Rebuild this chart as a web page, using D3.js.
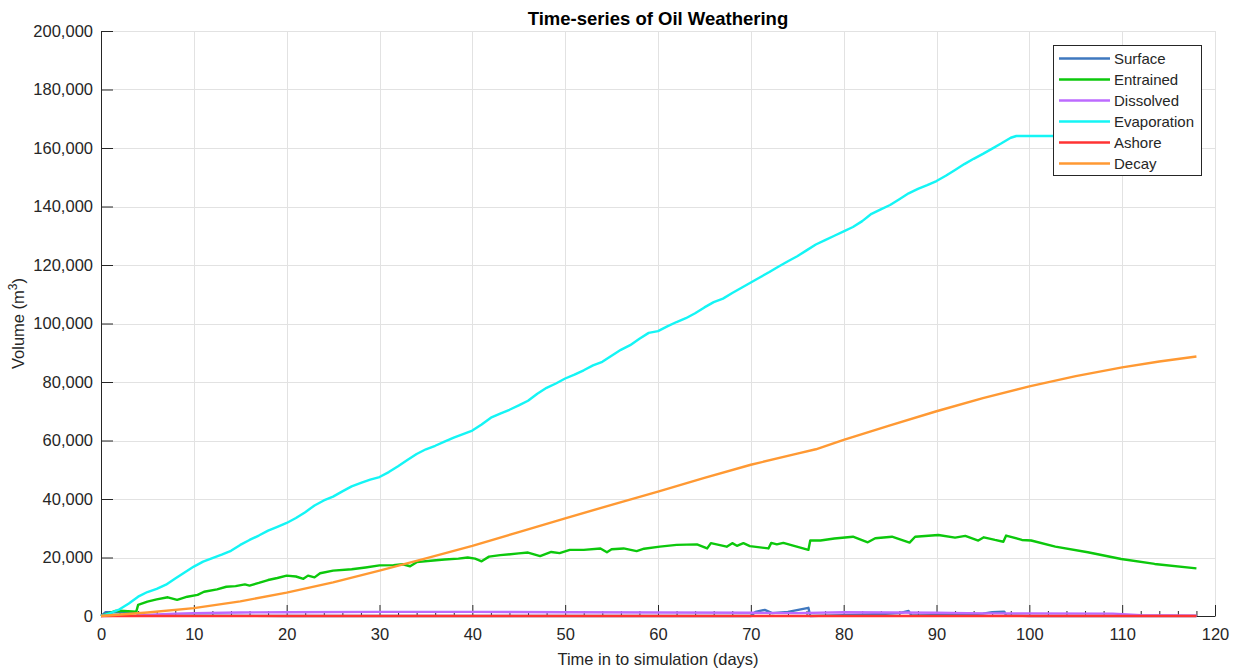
<!DOCTYPE html>
<html>
<head>
<meta charset="utf-8">
<script src="https://cdn.jsdelivr.net/npm/d3@7"></script>
<style>
  body { margin: 0; background: #fff; }
  svg { display: block; font-family: "Liberation Sans", Arial, sans-serif; }
</style>
</head>
<body>
<div id="chart"></div>
<script>
// values (days, m3)
const surfaceDays = [0, 0.5, 3.8, 4, 10, 20, 40, 60, 70, 70.5, 71.5, 72.3, 74, 76.2, 76.4, 80, 84, 86, 87, 87.3, 92, 95, 96, 97.3, 97.5, 100, 118];
const surfaceVol = [0, 1300, 1300, 200, 100, 0, 0, 0, 0, 1400, 2100, 1000, 1400, 2800, 0, 300, 700, 1000, 1700, 200, 400, 800, 1300, 1500, 200, 0, 0];

const entrainedDays = [0, 1.5, 2, 3.8, 4, 5, 6, 7.2, 8.2, 9.3, 10.4, 11.1, 12.5, 13.5, 14.5, 15.5, 16, 17, 18, 19, 20, 21, 21.8, 22.3, 23, 23.6, 25, 27, 28.5, 30, 31.5, 32.5, 33.3, 34, 35.5, 37, 38.5, 39.5, 40.3, 41, 41.8, 43, 45, 46, 47.3, 48.5, 49.4, 50.5, 52, 53.8, 54.5, 55, 56.3, 57.7, 58.5, 60.2, 62, 64.2, 65.3, 65.7, 67.4, 68, 68.5, 69.2, 69.9, 71.9, 72.2, 72.8, 73.5, 76.2, 76.4, 77.5, 79, 81, 82.6, 83.4, 85.2, 87.1, 87.7, 90.2, 92, 93.1, 94.5, 95.1, 96.3, 97.2, 97.5, 99.2, 100.2, 102.8, 106.3, 109.9, 113.5, 118];
const entrainedVol = [0, 1700, 1800, 1500, 3800, 4900, 5700, 6400, 5500, 6600, 7200, 8300, 9100, 10000, 10200, 10800, 10400, 11300, 12300, 13000, 13800, 13500, 12700, 13800, 13200, 14600, 15500, 16000, 16600, 17300, 17400, 17700, 17000, 18400, 18900, 19300, 19600, 20000, 19600, 18700, 20300, 20800, 21400, 21700, 20500, 21900, 21500, 22600, 22600, 23100, 21800, 22800, 23100, 22200, 23000, 23700, 24300, 24500, 23100, 24900, 23700, 24900, 24000, 24900, 23900, 23100, 25000, 24500, 25000, 22600, 25800, 25800, 26500, 27100, 25200, 26600, 27100, 25100, 27100, 27700, 26800, 27400, 25800, 26900, 26000, 25400, 27500, 26000, 25800, 23700, 21800, 19500, 17800, 16300];

const dissolvedDays = [0, 4, 6, 8, 10, 15, 20, 30, 40, 50, 60, 70, 75, 80, 85, 90, 95, 100, 109, 112, 118];
const dissolvedVol = [0, 200, 500, 800, 1000, 1200, 1300, 1400, 1400, 1300, 1200, 1100, 1000, 1300, 1200, 1100, 900, 900, 800, 300, 100];

const evaporationDays = [0, 1, 2, 3, 4, 5, 6, 7, 8, 9, 10, 11, 12, 13, 14, 15, 16, 17, 18, 19, 20, 21, 22, 23, 24, 25, 26, 27, 28, 29, 30, 31, 32, 33, 34, 35, 36, 37, 38, 39, 40, 41, 42, 43, 44, 45, 46, 47, 48, 49, 50, 51, 52, 53, 54, 55, 56, 57, 58, 59, 60, 61, 62, 63, 64, 65, 66, 67, 68, 69, 70, 71, 72, 73, 74, 75, 76, 77, 78, 79, 80, 81, 82, 83, 84, 85, 86, 87, 88, 89, 90, 91, 92, 93, 94, 95, 96, 97, 98, 98.6, 118];
const evaporationVol = [0, 1000, 2300, 4300, 6600, 8200, 9300, 10700, 12800, 14900, 16900, 18600, 19800, 21000, 22300, 24300, 26000, 27500, 29200, 30500, 31800, 33500, 35500, 37800, 39500, 40800, 42600, 44300, 45500, 46600, 47500, 49200, 51200, 53300, 55400, 57000, 58200, 59600, 61000, 62200, 63400, 65500, 67800, 69200, 70500, 72000, 73600, 76000, 78000, 79500, 81200, 82500, 84000, 85700, 86900, 89000, 91000, 92600, 94800, 96800, 97400, 99000, 100500, 101800, 103500, 105500, 107300, 108500, 110400, 112200, 114000, 115800, 117600, 119500, 121300, 123000, 125000, 127000, 128500, 130000, 131500, 133000, 135000, 137500, 139000, 140500, 142500, 144500, 146000, 147300, 148700, 150500, 152500, 154500, 156300, 158000, 159800, 161600, 163500, 164100, 164100];

const ashoreDays = [0, 118];
const ashoreVol = [0, 0];

const decayDays = [0, 5, 10, 15, 20, 25, 30, 35, 40, 45, 50, 55, 60, 65, 70, 75, 77, 80, 85, 90, 95, 100, 105, 110, 114, 118];
const decayVol = [0, 1200, 2700, 5000, 8000, 11500, 15500, 19700, 24000, 28700, 33400, 38000, 42500, 47200, 51700, 55500, 57000, 60200, 65200, 70000, 74500, 78500, 82000, 85000, 87000, 88700];

const seriesNames = ['Surface', 'Entrained', 'Dissolved', 'Evaporation', 'Ashore', 'Decay'];
const seriesColors = ['#3f78bf', '#0cc80c', '#bd6bff', '#14f5f5', '#ff3333', '#ff9933'];

const xTicks = d3.range(0, 121, 10);
const xMinorTicks = d3.range(0, 121, 2).filter((d) => d % 10 !== 0);
const yTicks = d3.range(0, 200001, 20000);

const width = 1235;
const height = 671;
const margin = { top: 31, right: 20, bottom: 55, left: 101 };
const ink = '#262626';
const axisFont = '16.5px';

const seriesData = [
  [surfaceDays, surfaceVol],
  [entrainedDays, entrainedVol],
  [dissolvedDays, dissolvedVol],
  [evaporationDays, evaporationVol],
  [ashoreDays, ashoreVol],
  [decayDays, decayVol],
].map(([days, vol], i) => ({
  name: seriesNames[i],
  color: seriesColors[i],
  points: days.map((d, j) => [d, vol[j]]),
}));

const xScale = d3.scaleLinear().domain([0, 120]).range([margin.left, 1215]);
const yScale = d3.scaleLinear().domain([0, 200000]).range([616, margin.top]);

const svg = d3
  .select('#chart')
  .append('svg')
  .attr('width', width)
  .attr('height', height);

// grid
const grid = svg.append('g').attr('stroke', '#e2e2e2').attr('stroke-width', 1);
grid
  .selectAll('.gx')
  .data(xTicks.filter((d) => d > 0))
  .join('line')
  .attr('x1', (d) => Math.round(xScale(d)) + 0.5)
  .attr('x2', (d) => Math.round(xScale(d)) + 0.5)
  .attr('y1', yScale(200000))
  .attr('y2', yScale(0));
grid
  .selectAll('.gy')
  .data(yTicks.filter((d) => d > 0))
  .join('line')
  .attr('y1', (d) => Math.round(yScale(d)) + 0.5)
  .attr('y2', (d) => Math.round(yScale(d)) + 0.5)
  .attr('x1', xScale(0))
  .attr('x2', xScale(120));

// axes (drawn under the data lines)
const xAxis = svg
  .append('g')
  .attr('transform', `translate(0,${yScale(0)})`)
  .call(
    d3.axisBottom(xScale).tickValues(xTicks).tickSize(-11).tickSizeOuter(0).tickPadding(12)
  );
const yAxis = svg
  .append('g')
  .attr('transform', `translate(${xScale(0)},0)`)
  .call(
    d3
      .axisLeft(yScale)
      .tickValues(yTicks)
      .tickFormat(d3.format(','))
      .tickSize(-12)
      .tickSizeOuter(0)
      .tickPadding(8)
  );

[xAxis, yAxis].forEach((ax) => {
  ax.selectAll('path, line').attr('stroke', ink);
  ax.selectAll('text')
    .attr('fill', ink)
    .style('font-size', axisFont)
    .style('font-family', '"Liberation Sans", Arial, sans-serif');
});

xAxis
  .append('g')
  .selectAll('line')
  .data(xMinorTicks)
  .join('line')
  .attr('x1', (d) => xScale(d) + 0.5)
  .attr('x2', (d) => xScale(d) + 0.5)
  .attr('y1', 0)
  .attr('y2', -5)
  .attr('stroke', ink);

// lines
const line = d3
  .line()
  .x((d) => xScale(d[0]))
  .y((d) => yScale(d[1]));

svg
  .append('g')
  .selectAll('path')
  .data(seriesData)
  .join('path')
  .attr('fill', 'none')
  .attr('stroke', (d) => d.color)
  .attr('stroke-width', 2.4)
  .attr('stroke-linejoin', 'round')
  .attr('d', (d) => line(d.points));

// title and labels
svg
  .append('text')
  .attr('x', (xScale(0) + xScale(120)) / 2)
  .attr('y', 25)
  .attr('text-anchor', 'middle')
  .attr('fill', '#000')
  .style('font-size', '18.5px')
  .style('font-weight', 'bold')
  .text('Time-series of Oil Weathering');

svg
  .append('text')
  .attr('x', (xScale(0) + xScale(120)) / 2)
  .attr('y', 665)
  .attr('text-anchor', 'middle')
  .attr('fill', ink)
  .style('font-size', axisFont)
  .text('Time in to simulation (days)');

const yLabel = svg
  .append('text')
  .attr('transform', `translate(24,${(yScale(0) + yScale(200000)) / 2}) rotate(-90)`)
  .attr('text-anchor', 'middle')
  .attr('fill', ink)
  .style('font-size', axisFont);
yLabel.append('tspan').text('Volume (m');
yLabel.append('tspan').attr('dy', -7).style('font-size', '12px').text('3');
yLabel.append('tspan').attr('dy', 7).text(')');

// legend
const legend = svg.append('g').attr('transform', 'translate(1053,45)');
legend
  .append('rect')
  .attr('x', 0.5)
  .attr('y', 0.5)
  .attr('width', 148)
  .attr('height', 130)
  .attr('fill', '#fff')
  .attr('stroke', ink)
  .attr('stroke-width', 1);

const rows = legend
  .selectAll('.row')
  .data(seriesData)
  .join('g')
  .attr('transform', (_, i) => `translate(0,${13.5 + i * 21})`);
rows
  .append('line')
  .attr('x1', 6)
  .attr('x2', 57)
  .attr('stroke', (d) => d.color)
  .attr('stroke-width', 2.4);
rows
  .append('text')
  .attr('x', 61)
  .attr('dy', '0.35em')
  .attr('fill', ink)
  .style('font-size', '15px')
  .text((d) => d.name);
</script>
</body>
</html>
